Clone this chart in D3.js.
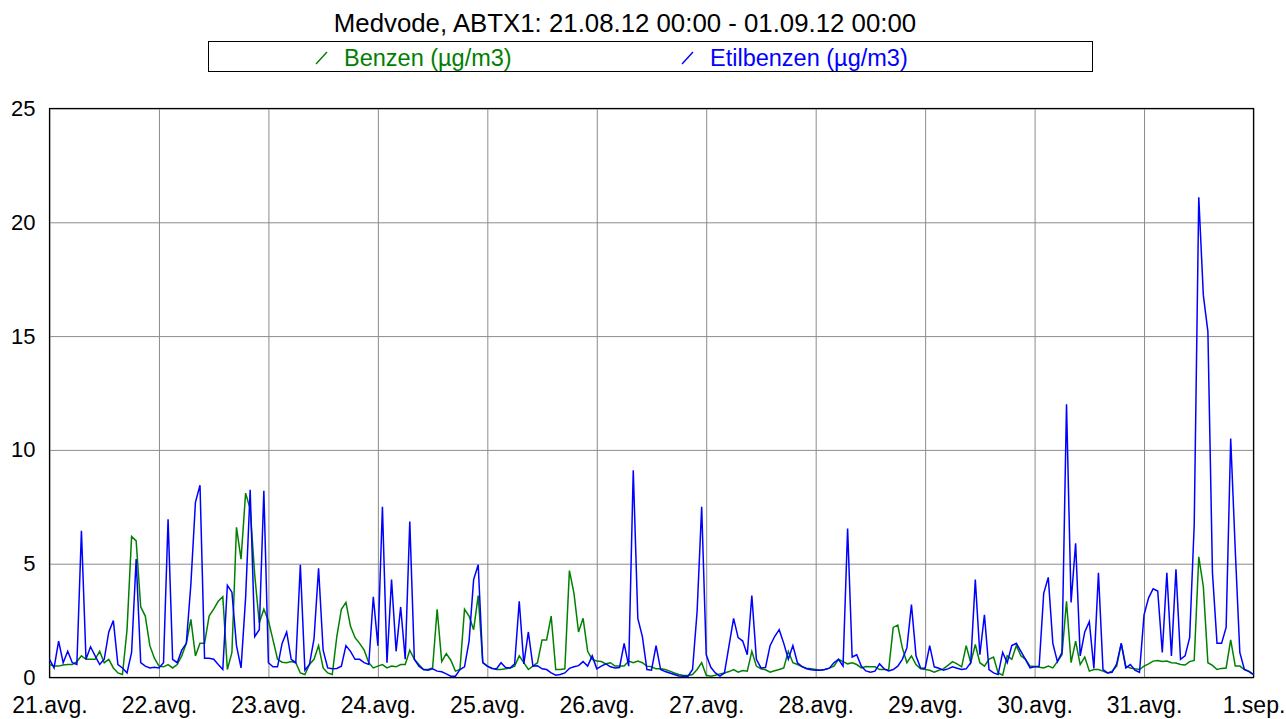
<!DOCTYPE html>
<html lang="sl">
<head>
    <meta charset="utf-8">
    <title>Medvode, ABTX1</title>
    <script src="https://d3js.org/d3.v7.min.js"></script>
    <style>
        body { margin: 0; background: #fff; }
        text { font-family: "Liberation Sans", Arial, sans-serif; }
    </style>
</head>
<body>
<script>
    // hourly values, 21.08.12 00:00 ... 01.09.12 00:00 (265 points)
    var benzen = [
        0.57,0.5,0.5,0.55,0.57,0.57,0.7,0.95,0.8,0.8,0.8,1.15,0.65,0.8,0.42,0.2,0.13,2.1,6.2,6.0,3.1,2.7,1.4,0.85,
        0.5,0.47,0.57,0.42,0.57,0.95,1.5,2.55,0.95,1.5,1.5,2.7,3.0,3.35,3.55,0.35,1.1,6.6,5.2,8.1,7.4,4.5,2.4,3.0,
        2.5,1.65,0.8,0.67,0.65,0.7,0.65,0.2,0.13,0.57,0.8,1.4,0.42,0.2,0.13,1.8,3.0,3.3,2.25,1.75,1.5,1.2,0.65,0.42,
        0.5,0.57,0.42,0.5,0.47,0.57,0.57,1.2,0.8,0.57,0.35,0.35,0.42,3.0,0.7,1.05,0.76,0.28,0.35,3.0,2.7,2.1,3.6,0.65,
        0.5,0.41,0.35,0.35,0.38,0.42,0.5,0.95,0.65,0.35,0.5,0.65,1.65,1.65,2.7,0.35,0.35,0.38,4.7,3.7,2.0,2.6,1.15,0.8,
        0.72,0.7,0.6,0.65,0.5,0.5,0.5,0.72,0.65,0.72,0.65,0.5,0.47,0.38,0.38,0.35,0.28,0.2,0.13,0.09,0.09,0.13,0.35,0.65,
        0.1,0.06,0.1,0.16,0.2,0.26,0.35,0.23,0.31,0.28,1.15,0.5,0.38,0.34,0.23,0.3,0.35,0.42,1.15,0.65,0.57,0.48,0.41,0.38,
        0.35,0.32,0.35,0.41,0.5,0.8,0.7,0.6,0.65,0.57,0.42,0.48,0.47,0.47,0.35,0.35,0.34,2.2,2.3,1.3,0.65,0.95,0.57,0.38,
        0.35,0.32,0.23,0.32,0.38,0.53,0.7,0.6,0.47,1.4,0.65,1.45,0.65,0.5,0.8,0.9,0.2,0.1,0.95,0.8,1.4,0.95,0.8,0.5,
        0.48,0.45,0.42,0.5,0.42,0.7,1.0,3.35,0.65,1.6,0.57,0.9,0.28,0.35,0.35,0.28,0.2,0.28,0.5,1.5,0.5,0.42,0.38,0.35,
        0.5,0.6,0.72,0.75,0.7,0.72,0.65,0.64,0.57,0.55,0.7,0.75,5.3,4.0,0.65,0.53,0.35,0.4,0.42,1.65,0.5,0.5,0.35,0.28,
        0.13
    ];
    var etilbenzen = [
        0.8,0.42,1.6,0.65,1.15,0.65,0.57,6.45,0.8,1.35,0.95,0.57,0.8,2.0,2.5,0.57,0.42,0.2,1.1,5.2,0.65,0.5,0.42,0.45,
        0.42,0.65,6.95,0.8,0.65,1.2,1.5,4.1,7.7,8.45,0.85,0.85,0.8,0.57,0.35,4.05,3.75,1.4,0.42,3.5,8.25,1.8,2.1,8.2,
        0.65,0.47,0.47,1.5,2.0,0.8,0.65,4.95,0.32,0.57,1.7,4.8,1.2,0.42,0.38,0.4,0.5,1.4,1.15,0.8,0.8,0.65,0.57,3.55,
        1.4,7.5,0.65,4.3,1.15,3.1,0.8,6.85,0.8,0.5,0.35,0.32,0.38,0.28,0.25,0.16,0.06,0.06,0.35,0.47,1.6,4.3,4.95,0.65,
        0.5,0.4,0.38,0.65,0.44,0.42,0.6,3.35,0.6,2.0,0.5,0.52,0.38,0.35,0.2,0.1,0.13,0.2,0.4,0.47,0.52,0.7,0.5,0.95,
        0.38,0.5,0.6,0.47,0.42,0.44,1.5,0.5,9.1,2.6,1.8,0.35,0.32,1.4,0.35,0.26,0.2,0.13,0.07,0.06,0.06,0.35,2.9,7.5,
        1.0,0.45,0.2,0.06,0.2,1.4,2.6,1.75,1.6,1.0,3.6,0.8,0.42,0.44,1.4,1.8,2.1,1.5,0.8,1.4,0.65,0.48,0.38,0.34,
        0.32,0.32,0.35,0.41,0.65,0.8,0.5,6.55,0.9,1.0,0.5,0.29,0.23,0.28,0.6,0.38,0.29,0.35,0.5,0.8,1.3,3.2,0.95,0.42,
        0.41,1.4,0.47,0.41,0.32,0.38,0.47,0.41,0.35,0.38,0.65,4.3,1.0,2.75,0.35,0.2,0.13,1.1,0.65,1.4,1.5,1.15,0.8,0.42,
        0.47,0.5,3.7,4.4,1.5,0.7,1.1,12.0,3.3,5.9,0.95,2.0,2.45,0.4,4.6,0.35,0.2,0.23,0.6,1.5,0.42,0.57,0.32,0.23,
        2.75,3.5,3.9,3.8,1.1,4.6,0.95,4.75,0.8,0.95,1.75,6.7,21.1,16.8,15.2,4.6,1.5,1.5,2.2,10.5,5.6,1.1,0.35,0.26,
        0.13
    ];
    var dayLabels = ["21.avg.", "22.avg.", "23.avg.", "24.avg.", "25.avg.", "26.avg.",
                     "27.avg.", "28.avg.", "29.avg.", "30.avg.", "31.avg.", "1.sep."];
    var yTicks = [0, 5, 10, 15, 20, 25];

    var width = 1286, height = 719;
    // plot area edges (not "top"/"left": those clash with window globals)
    var pLeft = 49.5, pRight = 1253.5, pTop = 108.5, pBottom = 677.5;

    var svg = d3.select("body").append("svg")
        .attr("width", width)
        .attr("height", height);

    var x = d3.scaleLinear().domain([0, 264]).range([pLeft, pRight]);
    var y = d3.scaleLinear().domain([0, 25]).range([pBottom, pTop]);

    // title
    svg.append("text")
        .attr("x", 625).attr("y", 32)
        .attr("text-anchor", "middle")
        .style("font-size", "25.8px")
        .text("Medvode, ABTX1: 21.08.12 00:00 - 01.09.12 00:00");

    // legend box
    svg.append("rect")
        .attr("x", 208.5).attr("y", 41.5)
        .attr("width", 884).attr("height", 30)
        .attr("fill", "none").attr("stroke", "#000");

    var legend = [
        { name: "Benzen (µg/m3)", color: "#008000", x: 316 },
        { name: "Etilbenzen (µg/m3)", color: "#0000ff", x: 682 }
    ];
    legend.forEach(function (d) {
        svg.append("line")
            .attr("x1", d.x).attr("y1", 64).attr("x2", d.x + 11).attr("y2", 52)
            .attr("stroke", d.color).attr("stroke-width", 1.4);
        svg.append("text")
            .attr("x", d.x + 28).attr("y", 66)
            .attr("fill", d.color)
            .style("font-size", "23.5px")
            .text(d.name);
    });

    // grid + axes
    var xAxis = d3.axisBottom(x)
        .tickValues(d3.range(0, 265, 24))
        .tickFormat(function (d, i) { return dayLabels[i]; })
        .tickSize(-(pBottom - pTop))
        .tickPadding(19);
    var gx = svg.append("g")
        .attr("transform", "translate(0," + pBottom + ")")
        .call(xAxis);
    gx.select(".domain").remove();
    gx.selectAll("line").attr("stroke", "#8c8c8c");
    gx.selectAll("text")
        .attr("fill", "#000")
        .style("font-size", "23px")
        .style("font-family", "'Liberation Sans', Arial, sans-serif");

    var yAxis = d3.axisLeft(y)
        .tickValues(yTicks)
        .tickSize(-(pRight - pLeft))
        .tickPadding(14);
    var gy = svg.append("g")
        .attr("transform", "translate(" + pLeft + ",0)")
        .call(yAxis);
    gy.select(".domain").remove();
    gy.selectAll("line").attr("stroke", "#8c8c8c");
    gy.selectAll("text")
        .attr("fill", "#000")
        .style("font-size", "22px")
        .style("font-family", "'Liberation Sans', Arial, sans-serif");

    // plot frame
    svg.append("rect")
        .attr("x", pLeft).attr("y", pTop)
        .attr("width", pRight - pLeft).attr("height", pBottom - pTop)
        .attr("fill", "none").attr("stroke", "#000").attr("stroke-width", 1.2);

    var line = d3.line()
        .x(function (d, i) { return x(i); })
        .y(function (d) { return y(d); });

    svg.append("path")
        .datum(benzen)
        .attr("d", line)
        .attr("fill", "none")
        .attr("stroke", "#008000")
        .attr("stroke-width", 1.5);

    svg.append("path")
        .datum(etilbenzen)
        .attr("d", line)
        .attr("fill", "none")
        .attr("stroke", "#0000ff")
        .attr("stroke-width", 1.5);
</script>
</body>
</html>
